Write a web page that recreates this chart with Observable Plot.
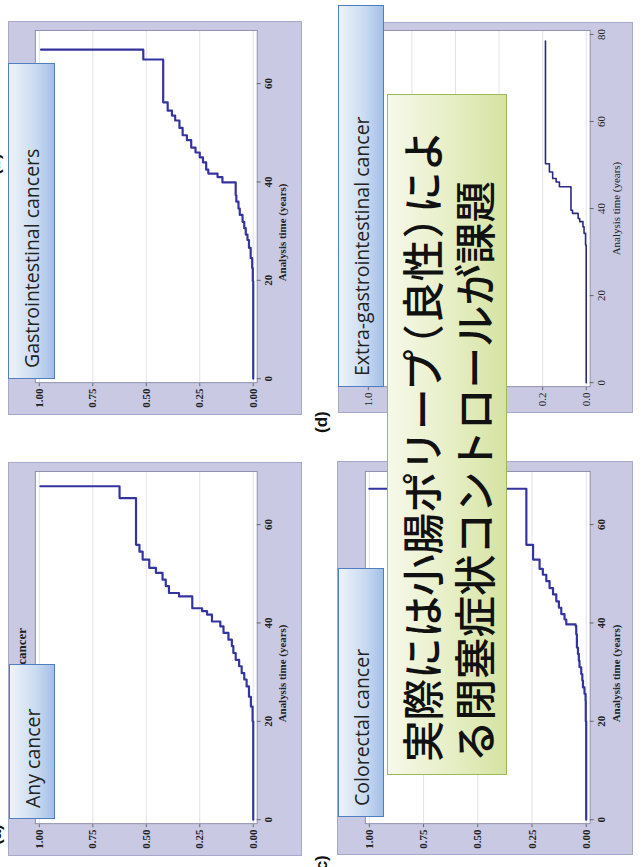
<!DOCTYPE html>
<html>
<head>
<meta charset="utf-8">
<script src="https://cdn.jsdelivr.net/npm/d3@7"></script>
<script src="https://cdn.jsdelivr.net/npm/@observablehq/plot@0.6"></script>
<style>
  html, body { margin: 0; padding: 0; background: #fff; }
  body { width: 641px; height: 867px; overflow: hidden; position: relative; }
  #slide {
    position: absolute; left: 0; top: 0; width: 867px; height: 641px;
    transform-origin: 0 0; transform: translate(0px, 867px) rotate(-90deg);
    overflow: hidden; background: #fff;
  }
  .panel { position: absolute; background: #c9c9e4; border: 1px solid #a8a8ca; box-sizing: border-box; }
  .panel svg { position: absolute; left: -1px; top: -1px; }
  .lbl {
    position: absolute; box-sizing: border-box; border: 1.3px solid #4f7fc0;
    background: linear-gradient(to bottom, #eef3fa 0%, #c9daf0 60%, #a3bfe6 100%);
    font-family: "Open Sans", sans-serif; font-size: 19.5px; color: #222;
    display: flex; align-items: center; padding-left: 10px; white-space: nowrap;
  }
  .jp {
    position: absolute; box-sizing: border-box; border: 1.5px solid #9bbb59;
    background: linear-gradient(to bottom, #f6f9ea 0%, #e6eec4 55%, #d5e3a2 100%);
    font-family: "Noto Sans CJK JP", sans-serif; font-size: 41.5px; font-weight: 500; line-height: 52px; color: #111;
    display: flex; flex-direction: column; justify-content: center; padding-left: 12px; white-space: nowrap;
  }
  .jp .p { font-feature-settings: "palt"; margin: 0 3px; }
  .tag { position: absolute; font-family: "Liberation Sans", sans-serif; font-weight: bold; font-size: 17px; color: #111; }
</style>
</head>
<body>
<div id="slide"></div>
<script>
// ---- data ----
const xTicksABC = [0, 20, 40, 60];
const yTicksABC = [0, 0.25, 0.5, 0.75, 1];
const xTicksD = [0, 20, 40, 60, 80];
const yTicksD = [0, 0.2, 0.4, 0.6, 0.8, 1];

const panelTitles = ["Any cancer", "Gastrointestinal cancers", "Colorectal cancer", "Extra-gastrointestinal cancer"];
const panelTags = ["(a)", "(b)", "(c)", "(d)"];
const axisTitle = "Analysis time (years)";
const jpLine1 = ["実際には小腸ポリープ", "（", "良性", "）", "によ"];
const jpLine2 = ["る閉塞症状コントロールが課題"];

const anyTime = [0, 20, 23, 25, 27.1, 28.5, 29.8, 31.2, 32.5, 33.9, 35.3, 36.6, 38, 39.3, 40.3, 41.7, 42.4, 43, 45.4, 46.1, 47.5, 48.8, 50.2, 51.2, 52.9, 54.5, 55.9, 65.4, 67.8];
const anyRisk = [0, 0.003, 0.011, 0.02, 0.031, 0.042, 0.054, 0.066, 0.082, 0.093, 0.1, 0.116, 0.139, 0.154, 0.193, 0.216, 0.239, 0.285, 0.347, 0.394, 0.409, 0.424, 0.455, 0.486, 0.517, 0.532, 0.548, 0.625, 0.995];

const giTime = [0, 19.8, 22.5, 24.5, 26.6, 28.2, 29.3, 30.6, 31.9, 33.3, 34.6, 36, 37.3, 39.9, 41, 41.7, 42.5, 44, 45, 46, 47, 48.5, 49.5, 51, 52.5, 53.5, 54.5, 56.2, 64.9, 66.9];
const giRisk = [0, 0.002, 0.005, 0.012, 0.02, 0.027, 0.035, 0.042, 0.05, 0.063, 0.069, 0.079, 0.082, 0.144, 0.167, 0.21, 0.22, 0.235, 0.25, 0.27, 0.29, 0.31, 0.33, 0.345, 0.365, 0.38, 0.4, 0.421, 0.514, 0.992];

const crcTime = [0, 20, 24.2, 25.6, 26.9, 28.3, 29.6, 31, 32.3, 33.7, 35, 37.7, 39.4, 39.7, 40.7, 41.8, 43.1, 44.4, 45.8, 47.1, 48.5, 49.8, 51, 52.9, 55.9, 67.3];
const crcRisk = [0, 0.002, 0.003, 0.008, 0.015, 0.018, 0.023, 0.031, 0.034, 0.038, 0.043, 0.046, 0.049, 0.092, 0.1, 0.115, 0.126, 0.138, 0.153, 0.169, 0.184, 0.2, 0.215, 0.245, 0.276, 1.0];

const egiTime = [0, 31.6, 34.3, 35.8, 37, 37.7, 38.9, 39.6, 45, 46.1, 46.9, 48.4, 50.3, 78.5];
const egiRisk = [0, 0.003, 0.01, 0.015, 0.03, 0.037, 0.063, 0.07, 0.123, 0.138, 0.154, 0.169, 0.187, 0.187];

// ---- layout ----
const slide = document.getElementById("slide");

function panel(cfg) {
  const div = document.createElement("div");
  div.className = "panel";
  Object.assign(div.style, {left: cfg.left + "px", top: cfg.top + "px", width: cfg.w + "px", height: cfg.h + "px"});
  const rows = cfg.time.map((t, i) => ({t, r: cfg.risk[i]}));
  const svg = Plot.plot({
    width: cfg.w, height: cfg.h,
    marginLeft: cfg.ml, marginRight: cfg.mr, marginTop: cfg.mt, marginBottom: cfg.mb,
    inset: 4,
    style: {background: "transparent", fontFamily: "'Liberation Serif', serif", fontSize: "11px", color: "#222", fontWeight: cfg.bold ? "bold" : "normal", overflow: "visible"},
    x: {domain: cfg.xDomain},
    y: {domain: [0, 1]},
    marks: [
      Plot.frame({fill: "white", stroke: null}),
      Plot.gridY(cfg.yTicks, {stroke: "#e2e2ea", strokeOpacity: 1}),
      Plot.frame({stroke: "#9090ae"}),
      Plot.axisX(cfg.xTicks, {tickSize: 4, tickPadding: 3, label: null, stroke: "#666"}),
      Plot.axisY(cfg.yTicks, {tickSize: 3, tickPadding: 3, label: null, tickFormat: cfg.fmt, stroke: "#666"}),
      Plot.line(rows, {x: "t", y: "r", curve: "step-after", stroke: cfg.color, strokeWidth: cfg.lw}),
      Plot.text([axisTitle], {text: d => d, frameAnchor: "bottom", dy: cfg.axDy, dx: cfg.axDx, fontSize: 11}),
      Plot.text([cfg.title], {text: d => d, frameAnchor: "top", dy: -19, dx: cfg.tDx, fontSize: 13, fontWeight: "bold"})
    ]
  });
  div.appendChild(svg);
  slide.appendChild(div);
}

const fmt2 = d3.format(".2f"), fmt1 = d3.format(".1f");
panel({left: 11, top: 8, w: 394, h: 294, ml: 32, mr: 8, mt: 27, mb: 44, xDomain: [0, 70], xTicks: xTicksABC, yTicks: yTicksABC, fmt: fmt2,
  time: anyTime, risk: anyRisk, title: panelTitles[0], color: "#3434a0", lw: 2.2, axDy: 29, axDx: -26, tDx: -12, bold: true});
panel({left: 452, top: 8, w: 394, h: 294, ml: 32, mr: 8, mt: 27, mb: 44, xDomain: [0, 70], xTicks: xTicksABC, yTicks: yTicksABC, fmt: fmt2,
  time: giTime, risk: giRisk, title: panelTitles[1], color: "#3434a0", lw: 2.2, axDy: 29, axDx: -26, tDx: -12, bold: true});
panel({left: 12, top: 337, w: 394, h: 296, ml: 31, mr: 9, mt: 28, mb: 42, xDomain: [0, 70], xTicks: xTicksABC, yTicks: yTicksABC, fmt: fmt2,
  time: crcTime, risk: crcRisk, title: panelTitles[2], color: "#3434a0", lw: 2.2, axDy: 30, axDx: -26, tDx: -12, bold: true});
panel({left: 454, top: 338, w: 391, h: 295, ml: 26, mr: 7, mt: 26, mb: 42, xDomain: [0, 80], xTicks: xTicksD, yTicks: yTicksD, fmt: fmt1,
  time: egiTime, risk: egiRisk, title: panelTitles[3], color: "#2a2a86", lw: 1.6, axDy: 30, axDx: 0, tDx: 0, bold: false});

function tag(text, left, top) {
  const d = document.createElement("div");
  d.className = "tag"; d.textContent = text;
  d.style.left = left + "px"; d.style.top = top + "px";
  slide.appendChild(d);
}
tag(panelTags[0], 22, -14);
tag(panelTags[1], 692, -15);
tag(panelTags[2], -9, 312);
tag(panelTags[3], 434, 312);

function box(text, left, top, w, h) {
  const d = document.createElement("div");
  d.className = "lbl"; d.textContent = text;
  Object.assign(d.style, {left: left + "px", top: top + "px", width: w + "px", height: h + "px"});
  slide.appendChild(d);
}
box(panelTitles[0], 48, 9, 155, 46);
box(panelTitles[1], 488, 8, 316, 47);
box(panelTitles[2], 50, 338, 249, 46);
box(panelTitles[3], 480, 338, 382, 46);

const jp = document.createElement("div");
jp.className = "jp";
Object.assign(jp.style, {left: "92px", top: "387px", width: "681px", height: "120px"});
[jpLine1, jpLine2].forEach(parts => {
  const l = document.createElement("div");
  parts.forEach(s => {
    const sp = document.createElement("span");
    if (s === "（" || s === "）") sp.className = "p";
    sp.textContent = s;
    l.appendChild(sp);
  });
  jp.appendChild(l);
});
slide.appendChild(jp);
</script>
</body>
</html>
